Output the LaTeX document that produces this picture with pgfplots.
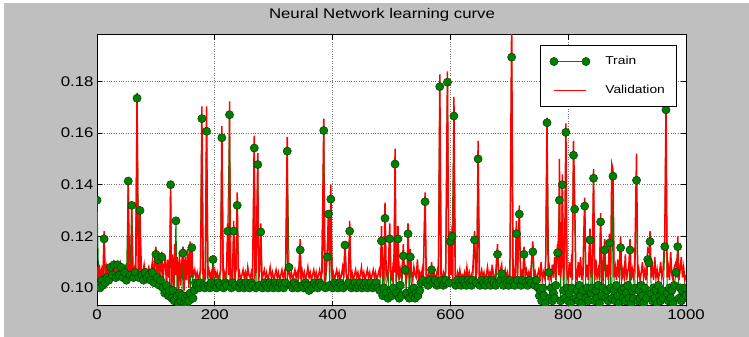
\documentclass[border=0pt]{standalone}
\usepackage{pgfplots}
\usepackage{pgfplotstable}
\pgfplotsset{compat=1.18}
\usepackage{fontspec}
\setmainfont[FakeStretch=1.2]{Liberation Sans}
\definecolor{figgray}{gray}{0.75}
\definecolor{mplgreen}{rgb}{0,0.5,0}
\definecolor{mpledge}{rgb}{0,0.25,0}
\pgfplotstableread[row sep=\\]{
x y\\
0 0.108\\ 2 0.103\\ 4 0.109\\ 6 0.104\\ 8 0.107\\ 10 0.103\\ 12 0.122\\ 14 0.104\\ 16 0.108\\ 18 0.105\\ 20 0.107\\
22 0.106\\ 24 0.108\\ 26 0.105\\ 28 0.109\\ 30 0.106\\ 32 0.107\\ 34 0.105\\ 36 0.108\\ 38 0.106\\ 40 0.109\\ 42 0.105\\
44 0.107\\ 46 0.106\\ 48 0.108\\ 50 0.105\\ 52 0.107\\ 53 0.142\\ 54 0.106\\ 56 0.108\\ 58 0.105\\ 59 0.133\\ 60 0.107\\
62 0.106\\ 64 0.108\\ 66 0.105\\ 68 0.1756\\ 70 0.106\\ 72 0.108\\ 73 0.131\\ 74 0.105\\ 76 0.107\\ 78 0.106\\ 80 0.109\\
82 0.105\\ 84 0.107\\ 86 0.106\\ 88 0.108\\ 90 0.105\\
92 0.107\\ 94 0.110\\ 96 0.104\\ 98 0.112\\ 100 0.116\\ 102 0.106\\ 104 0.113\\ 106 0.103\\ 108 0.110\\ 110 0.114\\
112 0.102\\ 114 0.109\\ 116 0.112\\ 118 0.100\\ 120 0.111\\ 122 0.104\\ 124 0.115\\ 125 0.141\\ 126 0.099\\ 128 0.113\\
130 0.098\\ 132 0.117\\ 134 0.105\\ 136 0.112\\ 138 0.097\\ 140 0.114\\ 142 0.101\\ 144 0.110\\ 146 0.116\\ 148 0.099\\
150 0.112\\ 152 0.103\\ 154 0.115\\ 156 0.100\\ 158 0.118\\ 160 0.104\\ 161 0.117\\ 162 0.108\\ 164 0.105\\ 166 0.107\\
168 0.104\\ 170 0.106\\ 172 0.103\\ 174 0.105\\ 176 0.107\\ 178 0.1703\\ 180 0.104\\ 182 0.106\\ 184 0.103\\ 186 0.1703\\
188 0.105\\ 190 0.107\\ 192 0.104\\ 194 0.106\\ 196 0.103\\ 197 0.108\\ 198 0.105\\ 200 0.107\\ 202 0.104\\ 204 0.106\\
206 0.103\\ 208 0.105\\ 210 0.107\\ 212 0.1627\\ 214 0.104\\ 216 0.106\\ 218 0.103\\ 220 0.108\\ 222 0.125\\ 224 0.105\\
225 0.1723\\ 226 0.104\\ 228 0.106\\ 230 0.103\\ 232 0.126\\ 234 0.105\\ 236 0.107\\ 238 0.137\\ 240 0.104\\ 242 0.106\\
244 0.103\\ 246 0.105\\ 248 0.107\\ 250 0.104\\ 252 0.106\\ 254 0.103\\ 256 0.108\\ 258 0.105\\ 260 0.104\\ 262 0.106\\
264 0.103\\ 267 0.159\\ 268 0.105\\ 270 0.107\\ 273 0.1523\\ 274 0.104\\ 276 0.106\\ 278 0.125\\ 280 0.103\\ 282 0.105\\
284 0.107\\ 286 0.104\\ 288 0.106\\ 290 0.103\\ 292 0.105\\ 294 0.108\\ 296 0.104\\ 298 0.106\\ 300 0.103\\ 302 0.105\\
304 0.107\\ 306 0.104\\ 308 0.106\\ 310 0.103\\ 312 0.105\\ 314 0.107\\ 316 0.104\\ 318 0.106\\ 320 0.103\\ 323 0.1585\\
324 0.105\\ 326 0.107\\ 328 0.104\\ 330 0.106\\ 332 0.103\\ 334 0.105\\ 336 0.107\\ 338 0.104\\ 340 0.106\\ 342 0.103\\
345 0.119\\ 346 0.105\\ 348 0.107\\ 350 0.104\\ 352 0.106\\ 354 0.103\\ 356 0.105\\ 358 0.108\\ 360 0.104\\ 362 0.106\\
364 0.103\\ 366 0.105\\ 368 0.107\\ 370 0.104\\ 372 0.106\\ 374 0.103\\ 376 0.105\\ 378 0.107\\ 380 0.104\\ 382 0.106\\
385 0.1656\\ 386 0.103\\ 388 0.105\\ 391 0.115\\ 393 0.130\\ 395 0.106\\ 397 0.140\\ 399 0.104\\ 401 0.106\\ 403 0.103\\
405 0.105\\ 407 0.107\\ 409 0.104\\ 411 0.106\\ 413 0.103\\ 415 0.105\\ 417 0.108\\ 419 0.104\\ 421 0.118\\ 423 0.106\\
425 0.103\\ 427 0.105\\ 429 0.126\\ 431 0.104\\ 433 0.106\\ 435 0.103\\ 437 0.105\\ 439 0.107\\ 441 0.104\\ 443 0.106\\
445 0.103\\ 447 0.105\\ 449 0.108\\ 451 0.104\\ 453 0.106\\ 455 0.103\\ 457 0.105\\ 459 0.107\\ 461 0.104\\ 463 0.106\\
465 0.103\\ 467 0.105\\ 469 0.107\\ 471 0.104\\ 473 0.106\\ 475 0.103\\ 477 0.105\\ 479 0.107\\
481 0.104\\ 483 0.124\\ 485 0.105\\ 487 0.103\\ 489 0.133\\ 491 0.106\\ 493 0.104\\ 495 0.110\\ 497 0.125\\ 499 0.105\\
501 0.103\\ 503 0.110\\ 505 0.106\\ 506 0.154\\ 508 0.104\\ 510 0.106\\ 511 0.124\\ 513 0.103\\ 515 0.107\\ 517 0.104\\
519 0.112\\ 520 0.117\\ 522 0.105\\ 523 0.109\\ 525 0.103\\ 527 0.106\\ 528 0.125\\ 530 0.104\\ 532 0.115\\ 534 0.106\\
536 0.103\\ 538 0.108\\ 540 0.105\\ 542 0.104\\ 544 0.111\\ 546 0.103\\ 548 0.106\\ 550 0.104\\ 552 0.107\\ 554 0.103\\
557 0.137\\ 559 0.105\\ 561 0.104\\ 563 0.106\\ 565 0.103\\ 567 0.105\\ 568 0.110\\ 570 0.104\\ 572 0.106\\ 574 0.103\\
576 0.105\\ 578 0.107\\ 580 0.104\\ 582 0.1827\\ 584 0.105\\ 586 0.103\\ 588 0.106\\ 590 0.104\\ 592 0.107\\ 595 0.1839\\
597 0.104\\ 599 0.106\\ 600 0.122\\ 601 0.105\\ 603 0.124\\ 604 0.103\\ 606 0.174\\ 608 0.105\\ 610 0.103\\ 612 0.106\\
614 0.104\\ 616 0.107\\ 618 0.103\\ 620 0.105\\ 622 0.104\\ 624 0.106\\ 626 0.103\\ 628 0.108\\ 630 0.104\\ 632 0.106\\
634 0.103\\ 636 0.105\\ 638 0.107\\ 641 0.122\\ 643 0.104\\ 645 0.106\\ 647 0.157\\ 649 0.103\\ 651 0.105\\ 653 0.107\\
655 0.104\\ 657 0.106\\ 659 0.103\\ 661 0.105\\ 663 0.108\\ 665 0.104\\ 667 0.106\\ 669 0.103\\ 671 0.109\\ 673 0.105\\
675 0.103\\ 677 0.106\\ 680 0.117\\ 682 0.104\\ 684 0.106\\ 687 0.109\\ 689 0.103\\ 691 0.105\\ 693 0.107\\ 695 0.104\\
697 0.106\\ 699 0.103\\ 701 0.105\\ 704 0.205\\ 706 0.104\\ 708 0.106\\ 710 0.103\\ 712 0.126\\ 714 0.105\\ 715 0.113\\
717 0.132\\ 719 0.104\\ 721 0.106\\ 723 0.103\\ 725 0.116\\ 727 0.105\\ 729 0.107\\ 731 0.104\\ 733 0.106\\ 735 0.103\\
737 0.108\\ 740 0.118\\ 742 0.104\\ 744 0.106\\ 746 0.103\\ 748 0.105\\ 750 0.107\\ 752 0.104\\ 754 0.110\\ 756 0.103\\
758 0.106\\ 760 0.104\\ 762 0.112\\ 764 0.166\\ 766 0.103\\ 767 0.110\\ 769 0.105\\ 771 0.103\\ 773 0.109\\ 775 0.104\\
777 0.112\\ 779 0.103\\ 780 0.112\\ 782 0.117\\ 784 0.105\\ 785 0.150\\ 787 0.104\\ 789 0.109\\ 790 0.144\\ 792 0.103\\
794 0.113\\ 796 0.1638\\ 798 0.105\\ 800 0.103\\ 802 0.110\\ 804 0.104\\ 806 0.113\\ 807 0.103\\ 809 0.157\\ 811 0.134\\
813 0.105\\ 815 0.103\\ 817 0.110\\ 819 0.104\\ 821 0.112\\ 823 0.103\\ 825 0.107\\ 828 0.135\\ 830 0.104\\ 832 0.109\\
834 0.103\\ 835 0.112\\ 837 0.123\\ 839 0.104\\ 841 0.108\\ 843 0.146\\ 845 0.103\\ 847 0.111\\ 849 0.104\\ 851 0.107\\
853 0.103\\ 855 0.129\\ 857 0.105\\ 859 0.103\\ 860 0.113\\ 862 0.119\\ 864 0.104\\ 866 0.109\\ 868 0.103\\ 870 0.121\\
872 0.105\\ 874 0.148\\ 876 0.146\\ 878 0.104\\ 880 0.108\\ 882 0.103\\ 884 0.111\\ 886 0.104\\ 889 0.120\\ 891 0.103\\
893 0.107\\ 895 0.104\\ 897 0.113\\ 899 0.103\\ 901 0.106\\ 903 0.109\\ 905 0.119\\ 907 0.103\\ 909 0.107\\ 911 0.104\\
913 0.110\\ 916 0.152\\ 918 0.104\\ 920 0.107\\ 922 0.103\\ 924 0.106\\ 926 0.110\\ 928 0.104\\ 930 0.107\\ 932 0.103\\
935 0.115\\ 937 0.114\\ 939 0.122\\ 941 0.104\\ 943 0.108\\ 945 0.103\\ 947 0.112\\ 949 0.104\\ 951 0.107\\ 953 0.103\\
955 0.106\\ 957 0.110\\ 959 0.104\\ 961 0.107\\ 964 0.120\\ 966 0.172\\ 968 0.104\\ 970 0.108\\ 972 0.103\\ 974 0.114\\
976 0.105\\ 978 0.103\\ 980 0.108\\ 983 0.110\\ 985 0.104\\ 986 0.120\\ 988 0.103\\ 990 0.107\\ 992 0.112\\ 994 0.104\\
996 0.108\\ 998 0.103\\ 1000 0.105\\
}\validation
\pgfplotstableread[row sep=\\]{
x y\\
0 0.134\\ 3 0.101\\ 5 0.100\\ 8 0.103\\ 10 0.101\\ 12 0.119\\ 14 0.102\\ 17 0.104\\ 20 0.103\\ 23 0.108\\ 26 0.105\\
29 0.109\\ 32 0.104\\ 35 0.109\\ 38 0.105\\ 41 0.108\\ 44 0.104\\ 47 0.106\\ 50 0.103\\ 53 0.1414\\ 56 0.105\\ 59 0.132\\
62 0.104\\ 65 0.106\\ 68 0.1735\\ 71 0.104\\ 73 0.130\\ 76 0.105\\ 79 0.103\\ 82 0.106\\ 85 0.104\\ 88 0.105\\ 91 0.103\\
94 0.106\\ 97 0.102\\ 100 0.113\\ 102 0.104\\ 104 0.111\\ 106 0.101\\ 108 0.103\\ 110 0.112\\ 112 0.100\\ 115 0.098\\
118 0.101\\ 121 0.097\\ 123 0.099\\ 125 0.140\\ 127 0.096\\ 129 0.099\\ 131 0.095\\ 134 0.126\\ 136 0.097\\ 138 0.094\\
140 0.098\\ 142 0.095\\ 144 0.097\\ 146 0.1135\\ 148 0.094\\ 150 0.096\\ 152 0.093\\ 154 0.097\\ 156 0.095\\ 158 0.098\\
161 0.1156\\ 163 0.096\\ 165 0.099\\ 167 0.102\\ 170 0.101\\ 173 0.100\\ 175 0.102\\ 178 0.1656\\ 181 0.101\\ 183 0.100\\
186 0.1607\\ 189 0.101\\ 192 0.100\\ 194 0.102\\ 197 0.111\\ 200 0.101\\ 203 0.100\\ 206 0.102\\ 209 0.101\\ 212 0.1582\\
215 0.100\\ 218 0.102\\ 220 0.101\\ 222 0.122\\ 225 0.1671\\ 228 0.100\\ 230 0.102\\ 232 0.122\\ 235 0.101\\ 238 0.132\\
241 0.100\\ 244 0.102\\ 247 0.101\\ 250 0.100\\ 253 0.102\\ 256 0.101\\ 259 0.100\\ 262 0.102\\ 264 0.101\\ 267 0.1542\\
270 0.100\\ 273 0.1478\\ 275 0.101\\ 278 0.1217\\ 281 0.100\\ 284 0.102\\ 287 0.101\\ 290 0.100\\ 293 0.102\\ 296 0.101\\
299 0.100\\ 302 0.102\\ 305 0.101\\ 308 0.100\\ 311 0.102\\ 314 0.101\\ 317 0.100\\ 320 0.102\\ 323 0.153\\ 326 0.108\\
329 0.101\\ 332 0.100\\ 335 0.102\\ 338 0.101\\ 341 0.100\\ 345 0.1147\\ 348 0.101\\ 351 0.100\\ 354 0.102\\ 357 0.101\\
360 0.099\\ 363 0.101\\ 366 0.100\\ 369 0.102\\ 372 0.101\\ 375 0.100\\ 378 0.102\\ 381 0.101\\ 385 0.161\\ 388 0.100\\
391 0.112\\ 393 0.1286\\ 395 0.101\\ 397 0.1344\\ 400 0.100\\ 403 0.102\\ 406 0.101\\ 409 0.100\\ 412 0.102\\ 415 0.101\\
418 0.100\\ 421 0.1166\\ 424 0.101\\ 427 0.102\\ 429 0.122\\ 432 0.100\\ 435 0.101\\ 438 0.102\\ 441 0.100\\ 444 0.101\\
447 0.102\\ 450 0.100\\ 453 0.101\\ 456 0.102\\ 459 0.100\\ 462 0.101\\ 465 0.102\\ 468 0.100\\ 471 0.101\\ 474 0.102\\
477 0.100\\ 480 0.099\\ 483 0.1182\\ 485 0.097\\ 487 0.100\\ 489 0.127\\ 491 0.098\\ 494 0.096\\ 497 0.119\\ 499 0.099\\
501 0.097\\ 503 0.100\\ 506 0.148\\ 508 0.098\\ 511 0.119\\ 513 0.096\\ 515 0.101\\ 517 0.097\\ 520 0.1124\\ 523 0.107\\
525 0.098\\ 528 0.121\\ 530 0.096\\ 532 0.112\\ 534 0.099\\ 536 0.097\\ 538 0.100\\ 540 0.096\\ 542 0.098\\ 545 0.097\\
548 0.099\\ 550 0.102\\ 553 0.103\\ 557 0.1334\\ 559 0.102\\ 562 0.101\\ 565 0.103\\ 568 0.107\\ 571 0.102\\ 574 0.103\\
577 0.101\\ 579 0.102\\ 582 0.178\\ 585 0.103\\ 588 0.101\\ 590 0.102\\ 592 0.103\\ 595 0.1797\\ 598 0.102\\ 600 0.118\\
603 0.120\\ 606 0.1666\\ 609 0.101\\ 612 0.103\\ 615 0.102\\ 618 0.101\\ 621 0.103\\ 624 0.102\\ 627 0.101\\ 630 0.103\\
633 0.102\\ 636 0.101\\ 638 0.103\\ 641 0.1186\\ 644 0.102\\ 647 0.150\\ 650 0.101\\ 653 0.103\\ 656 0.102\\ 659 0.101\\
662 0.103\\ 665 0.102\\ 668 0.101\\ 671 0.103\\ 674 0.102\\ 677 0.101\\ 680 0.113\\ 683 0.102\\ 685 0.103\\ 687 0.1055\\
690 0.101\\ 693 0.103\\ 696 0.102\\ 699 0.101\\ 701 0.103\\ 704 0.1894\\ 707 0.102\\ 709 0.101\\ 712 0.121\\ 714 0.103\\
717 0.1286\\ 720 0.101\\ 722 0.103\\ 725 0.113\\ 728 0.102\\ 731 0.101\\ 734 0.103\\ 737 0.102\\ 740 0.114\\ 743 0.101\\
746 0.103\\ 749 0.100\\ 751 0.097\\ 753 0.099\\ 755 0.095\\ 757 0.100\\ 759 0.097\\ 761 0.094\\ 764 0.164\\ 767 0.106\\
769 0.096\\ 771 0.100\\ 773 0.095\\ 775 0.098\\ 777 0.096\\ 779 0.101\\ 782 0.1136\\ 785 0.134\\ 787 0.095\\ 790 0.140\\
792 0.099\\ 794 0.096\\ 796 0.1603\\ 798 0.100\\ 800 0.095\\ 802 0.098\\ 804 0.094\\ 806 0.100\\ 809 0.1514\\ 811 0.1305\\
813 0.096\\ 815 0.099\\ 817 0.095\\ 819 0.101\\ 821 0.097\\ 823 0.094\\ 825 0.099\\ 828 0.1317\\ 830 0.096\\ 832 0.100\\
834 0.095\\ 837 0.1186\\ 839 0.098\\ 841 0.100\\ 843 0.1425\\ 845 0.095\\ 847 0.099\\ 849 0.096\\ 851 0.101\\ 853 0.094\\
855 0.1256\\ 857 0.097\\ 859 0.100\\ 862 0.1147\\ 864 0.096\\ 866 0.099\\ 868 0.095\\ 870 0.1174\\ 872 0.100\\ 874 0.096\\
876 0.1433\\ 878 0.099\\ 880 0.095\\ 882 0.101\\ 884 0.097\\ 886 0.094\\ 889 0.1156\\ 891 0.099\\ 893 0.096\\ 895 0.100\\
897 0.095\\ 899 0.098\\ 901 0.101\\ 903 0.096\\ 905 0.1147\\ 907 0.094\\ 909 0.099\\ 911 0.096\\ 913 0.100\\ 916 0.1417\\
918 0.095\\ 920 0.099\\ 922 0.096\\ 924 0.101\\ 926 0.097\\ 928 0.094\\ 930 0.100\\ 933 0.096\\ 935 0.111\\ 937 0.1097\\
939 0.118\\ 941 0.098\\ 943 0.095\\ 945 0.100\\ 947 0.096\\ 949 0.099\\ 951 0.094\\ 953 0.101\\ 955 0.097\\ 957 0.095\\
959 0.099\\ 961 0.096\\ 964 0.116\\ 966 0.169\\ 968 0.098\\ 970 0.095\\ 972 0.100\\ 974 0.096\\ 976 0.099\\ 978 0.094\\
980 0.101\\ 983 0.106\\ 986 0.116\\ 988 0.096\\ 990 0.100\\ 992 0.095\\ 994 0.099\\ 996 0.096\\ 998 0.100\\ 1000 0.097\\
}\train
\begin{document}
\begin{tikzpicture}[x=1pt,y=1pt]
\useasboundingbox (0,0) rectangle (749,337);
\fill[white] (0,0) rectangle (749,337);
\fill[figgray] (4,0) rectangle (749,334);
\node[font=\fontsize{14}{16}\selectfont] at (382,322) {Neural Network learning curve};
\begin{axis}[
  at={(97pt,31pt)}, anchor=south west,
  width=589pt, height=271pt, scale only axis,
  xmin=0, xmax=1000, ymin=0.093, ymax=0.198,
  xtick={0,200,400,600,800,1000},
  ytick={0.10,0.12,0.14,0.16,0.18},
  axis background/.style={fill=white},
  axis line style={line width=1pt, black},
  tick align=inside, major tick length=5pt,
  tick style={black, line width=0.8pt},
  grid=major, major grid style={black!55, dotted, line width=0.9pt},
  ticklabel style={font=\fontsize{14}{16}\selectfont},
  /pgf/number format/assume math mode=true,
  /pgf/number format/1000 sep={},
  yticklabel style={/pgf/number format/.cd, fixed, fixed zerofill, precision=2},
  scaled y ticks=false,
  clip marker paths=true,
  legend cell align=left,
  legend style={at={(1,1)}, anchor=north east, xshift=-9pt, yshift=-10pt,
    draw=black, line width=1.2pt, font=\fontsize{11.5}{13}\selectfont,
    inner xsep=9.5pt, inner ysep=9pt, row sep=15pt,
    /tikz/every odd column/.append style={column sep=13pt}},
]
% Train line (under the validation curve)
\addplot[mplgreen, line width=1pt, mark=none, forget plot] table {\train};
% Validation
\addplot[red, line width=1.5pt, mark=none, forget plot] table {\validation};
% Train markers on top
\addplot[only marks, mark=*, mark size=4.1pt,
  mark options={fill=mplgreen, draw=mpledge, line width=0.5pt}, forget plot] table {\train};
\addlegendimage{legend image code/.code={%
  \draw[mplgreen, line width=1pt] (0pt,0pt) -- (32pt,0pt);
  \fill[mplgreen, draw=mpledge, line width=0.5pt] (0pt,0pt) circle (4.1pt);
  \fill[mplgreen, draw=mpledge, line width=0.5pt] (32pt,0pt) circle (4.1pt);}}
\addlegendentry{Train}
\addlegendimage{legend image code/.code={%
  \draw[red, line width=1.5pt] (0pt,0pt) -- (32pt,0pt);}}
\addlegendentry{Validation}
\end{axis}
\end{tikzpicture}
\end{document}
